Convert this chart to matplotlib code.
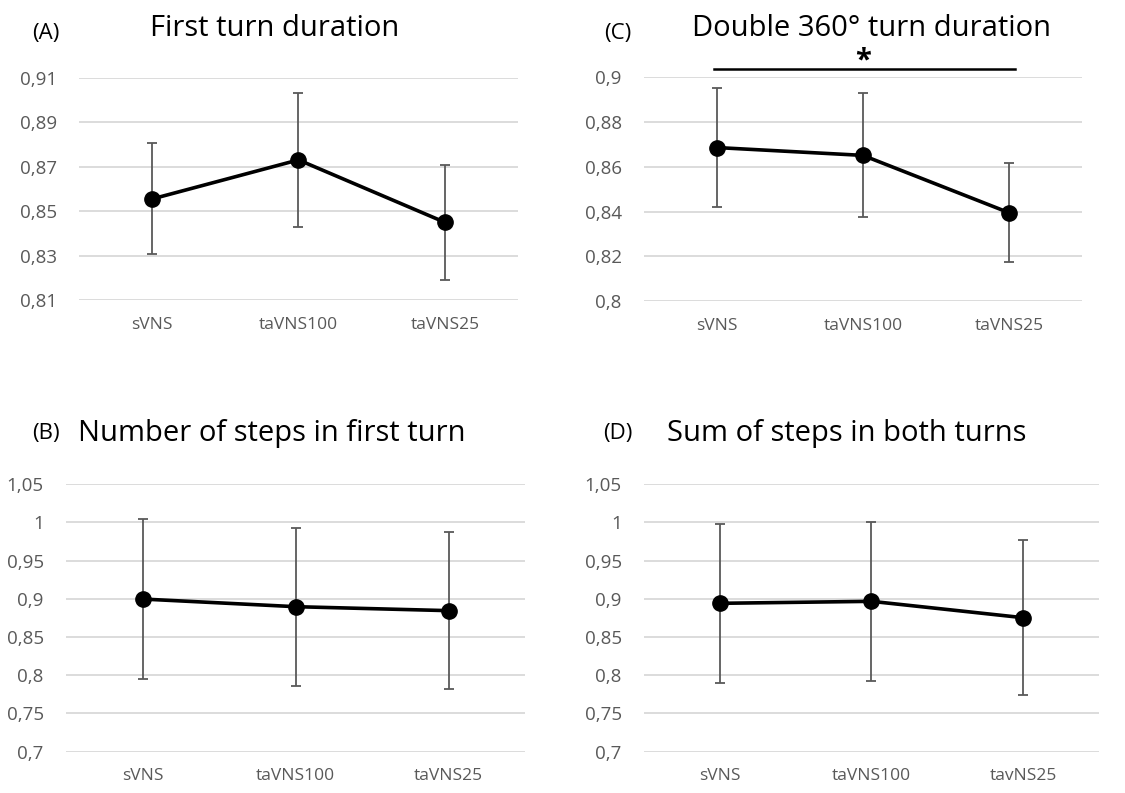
import numpy as np
import matplotlib
matplotlib.use('Agg')
import matplotlib.pyplot as plt

plt.rcParams['font.family'] = ['Open Sans', 'DejaVu Sans']

# data
groups = ['sVNS', 'taVNS100', 'taVNS25']
groups_d = ['sVNS', 'taVNS100', 'tavNS25']

a_mean = [0.8555, 0.8731, 0.8450]
a_err = [0.0250, 0.0302, 0.0260]
c_mean = [0.8686, 0.8651, 0.8395]
c_err = [0.0265, 0.0277, 0.0222]
b_mean = [0.8998, 0.8898, 0.8846]
b_err = [0.1046, 0.1036, 0.1028]
d_mean = [0.8942, 0.8968, 0.8754]
d_err = [0.1037, 0.1041, 0.1017]

a_ticks = [0.81, 0.83, 0.85, 0.87, 0.89, 0.91]
c_ticks = [0.80, 0.82, 0.84, 0.86, 0.88, 0.90]
bd_ticks = [0.70, 0.75, 0.80, 0.85, 0.90, 0.95, 1.00, 1.05]

panels = [
    # letter, title, mean, err, ticks, xlabels, rect, letter pos, title pos
    ('(A)', 'First turn duration', a_mean, a_err, a_ticks, groups,
     [0.0702, 0.6217, 0.3902, 0.2800], (46, 33), (275, 28)),
    ('(C)', 'Double 360° turn duration', c_mean, c_err, c_ticks, groups,
     [0.5724, 0.6204, 0.3893, 0.2821], (618, 33), (872, 28)),
    ('(B)', 'Number of steps in first turn', b_mean, b_err, bd_ticks, groups,
     [0.0587, 0.0521, 0.4080, 0.3372], (46, 433), (272, 434)),
    ('(D)', 'Sum of steps in both turns', d_mean, d_err, bd_ticks, groups_d,
     [0.5724, 0.0521, 0.4044, 0.3372], (618, 433), (847, 434)),
]

W, H = 1125, 793
fig = plt.figure(figsize=(W / 100, H / 100), dpi=100)
grey = '#595959'

axes = {}
for letter, title, mean, err, ticks, xl, rect, lpos, tpos in panels:
    ax = fig.add_axes(rect)
    x = np.arange(len(mean))
    ax.errorbar(x, mean, yerr=err, fmt='none', ecolor=grey, elinewidth=1.3,
                capsize=3.5, capthick=1.3, zorder=2)
    ax.plot(x, mean, color='black', lw=2.6, marker='o', ms=11, zorder=3)
    ax.set_xlim(-0.5, 2.5)
    ax.set_ylim(ticks[0], ticks[-1])
    ax.set_yticks(ticks)
    ax.set_yticklabels([f'{t:g}'.replace('.', ',') for t in ticks])
    ax.set_xticks(x)
    ax.set_xticklabels(xl)
    ax.tick_params(axis='y', length=0, pad=16, labelsize=13.5, labelcolor=grey)
    ax.tick_params(axis='x', length=0, pad=12, labelsize=12.5, labelcolor=grey)
    ax.grid(axis='y', color='#d9d9d9', lw=1.3)
    ax.set_axisbelow(True)
    for s in ax.spines.values():
        s.set_visible(False)
    fig.text(lpos[0] / W, 1 - lpos[1] / H, letter, fontsize=16,
             ha='center', va='center')
    fig.text(tpos[0] / W, 1 - tpos[1] / H, title, fontsize=21,
             ha='center', va='center')
    axes[letter] = ax

# significance bar in panel C
axc = axes['(C)']
axc.plot([-0.02, 1.02 * 2], [0.9036, 0.9036], color='black', lw=1.8,
         clip_on=False)
axc.text(1, 0.9010, '*', ha='center', va='bottom', fontsize=21,
         fontweight='bold')

plt.savefig('out.png', dpi=100)
